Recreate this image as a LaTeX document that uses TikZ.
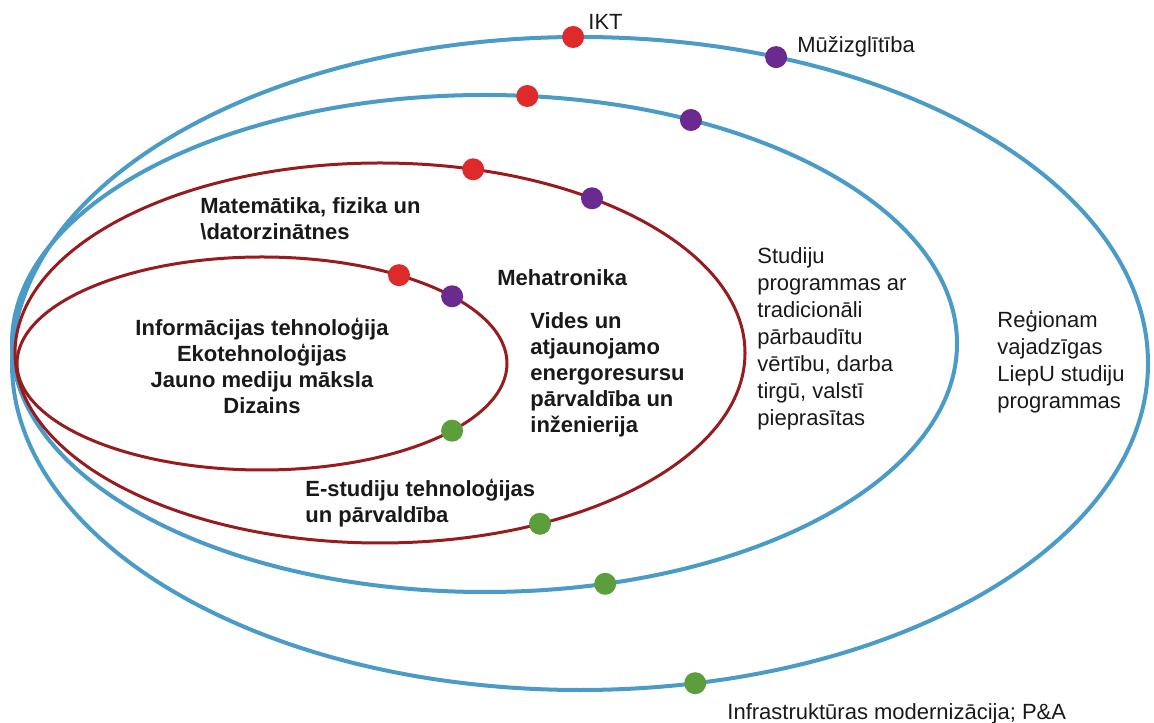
\documentclass[tikz,border=0pt]{standalone}
\usepackage{fontspec}
\setmainfont{Liberation Sans}
\definecolor{ringblue}{HTML}{4A9BC7}
\definecolor{ringred}{HTML}{981B1E}
\definecolor{dotred}{HTML}{DE2A2A}
\definecolor{dotviolet}{HTML}{6B2A8F}
\definecolor{dotgreen}{HTML}{5B9E3B}
\begin{document}
\begin{tikzpicture}
[x=0.5pt, y=0.5pt, font=\fontsize{11}{13.5}\selectfont, text=black!90,
ring0/.style={draw=ringblue, line width=2pt},
ring1/.style={draw=ringred, line width=1.5pt},
dot0/.style={circle, fill=dotred, inner sep=0pt, minimum size=11pt},
dot1/.style={circle, fill=dotviolet, inner sep=0pt, minimum size=11pt},
dot2/.style={circle, fill=dotgreen, inner sep=0pt, minimum size=11pt},
label0/.style={inner sep=0pt, align=left},
label1/.style={inner sep=0pt, align=left, font=\fontsize{11}{13}\selectfont\bfseries}
]
\useasboundingbox (0,0) rectangle (1154,722);

\coordinate (c1) at (262,358.5);
\coordinate (c2) at (380,369);
\coordinate (c3) at (484.5,378.5);
\coordinate (c4) at (580,358.5);

\draw[ring0] (c4) ellipse [x radius=568, y radius=326.5];
\draw[ring0] (c3) ellipse [x radius=472.5, y radius=248.5];
\draw[ring1] (c2) ellipse [x radius=365, y radius=190];
\draw[ring1] (c1) ellipse [x radius=245, y radius=106.5];

\node[dot0] (r4) at (573.1,685.0) {};
\node[dot1] (v4) at (776.1,664.9) {};
\node[dot2] (g4) at (695.2,38.8) {};

\node[dot0] (r3) at (527.3,626.0) {};
\node[dot1] (v3) at (690.9,602.0) {};
\node[dot2] (g3) at (605.2,138.2) {};

\node[dot0] (r2) at (473.2,552.7) {};
\node[dot1] (v2) at (592.0,523.7) {};
\node[dot2] (g2) at (540.0,198.2) {};

\node[dot0] (r1) at (399.0,446.8) {};
\node[dot1] (v1) at (452.1,425.7) {};
\node[dot2] (g1) at (452.1,291.3) {};

\node[label0, anchor=base west] (ikt) at (588,692) {IKT};
\node[label0, anchor=base west] (muz) at (797,669.5) {Mūžizglītība};
\node[label0, anchor=base west] (infra) at (727,3) {Infrastruktūras modernizācija; P\&A};

\node[label1, anchor=west] (matem) at (200,503.5) {Matemātika, fizika un\\\textbackslash datorzinātnes};
\node[label1, anchor=west] (meha) at (497,444) {Mehatronika};
\node[label1, anchor=west] (vides) at (530,347.5) {Vides un\\atjaunojamo\\energoresursu\\pārvaldība un\\inženierija};
\node[label1, align=center] (inf) at (262,356) {Informācijas tehnoloģija\\Ekotehnoloģijas\\Jauno mediju māksla\\Dizains};
\node[label1, anchor=west] (estud) at (305,218.5) {E-studiju tehnoloģijas\\un pārvaldība};

\node[label0, anchor=west] (stud) at (757,383.5) {Studiju\\programmas ar\\tradicionāli\\pārbaudītu\\vērtību, darba\\tirgū, valstī\\pieprasītas};
\node[label0, anchor=west] (reg) at (997,360.5) {Reģionam\\vajadzīgas\\LiepU studiju\\programmas};
\end{tikzpicture}
\end{document}
